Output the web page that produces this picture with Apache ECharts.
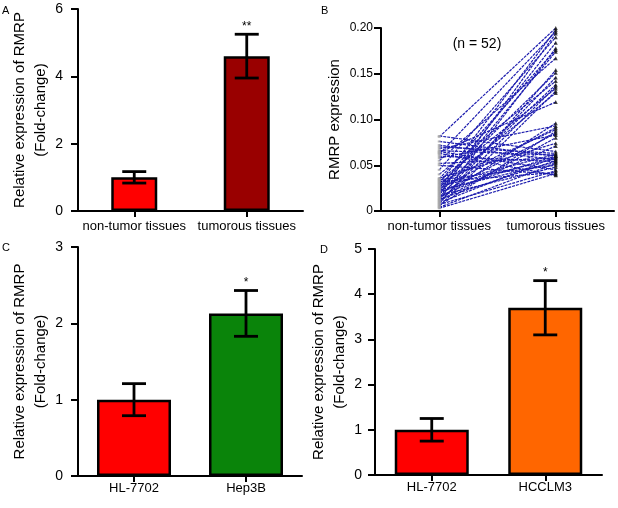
<!DOCTYPE html>
<html><head><meta charset="utf-8">
<script src="https://cdn.jsdelivr.net/npm/echarts@6/dist/echarts.min.js"></script>
<style>html,body{margin:0;padding:0;background:#fff}#c{width:618px;height:508px}</style>
</head><body><div id="c"></div>
<script>
// ---- Panel A ----
const panelA_categories = ['non-tumor tissues', 'tumorous tissues'];
const panelA_means = [1.0, 4.6];
const panelA_errors = [0.17, 0.65];
const panelA_marks = ['', '**'];
const panelA_ticks = [0, 2, 4, 6];
// ---- Panel B (paired samples, n = 52) ----
const panelB_categories = ['non-tumor tissues', 'tumorous tissues'];
const panelB_nonTumor = [0.081,0.030,0.062,0.018,0.045,0.025,0.012,0.035,0.022,0.055,
  0.008,0.028,0.015,0.040,0.020,0.010,0.033,0.005,0.026,0.064,
  0.014,0.068,0.024,0.031,0.006,0.019,0.058,0.011,0.036,0.016,
  0.082,0.070,0.029,0.066,0.021,0.076,0.009,0.052,0.027,0.072,
  0.013,0.060,0.023,0.004,0.034,0.017,0.065,0.007,0.032,0.003,0.050,0.063];
const panelB_tumorous = [0.200,0.198,0.196,0.194,0.190,0.184,0.178,0.176,0.174,0.167,
  0.154,0.151,0.146,0.142,0.138,0.136,0.134,0.131,0.129,0.119,
  0.096,0.093,0.091,0.089,0.087,0.085,0.083,0.080,0.074,0.071,
  0.065,0.063,0.062,0.061,0.060,0.060,0.059,0.058,0.057,0.056,
  0.055,0.054,0.053,0.052,0.050,0.048,0.045,0.044,0.042,0.041,0.040,0.039];
const panelB_ticks = ['0', '0.05', '0.10', '0.15', '0.20'];
const panelB_note = '(n = 52)';
// ---- Panel C ----
const panelC_categories = ['HL-7702', 'Hep3B'];
const panelC_means = [1.0, 2.13];
const panelC_errors = [0.21, 0.30];
const panelC_marks = ['', '*'];
// ---- Panel D ----
const panelD_categories = ['HL-7702', 'HCCLM3'];
const panelD_means = [1.0, 3.7];
const panelD_errors = [0.25, 0.6];
const panelD_marks = ['', '*'];

const FONT = 'Liberation Sans, Arial, Helvetica, sans-serif';
const YNAME = 'Relative expression of RMRP\n(Fold-change)';

const chart = echarts.init(document.getElementById('c'), null, {renderer: 'canvas'});

function xAxisCfg(gi, cats, margin) {
  return {
    type: 'category', gridIndex: gi, data: cats, boundaryGap: true,
    axisLine: {show: true, lineStyle: {color: '#000', width: 2}},
    axisTick: {show: true, alignWithLabel: true, length: 6, lineStyle: {color: '#000', width: 2}},
    axisLabel: {color: '#000', fontSize: 13, fontFamily: FONT, margin: margin, interval: 0},
    splitLine: {show: false}
  };
}
function yAxisCfg(gi, max, interval, name, gap, margin, fontSize, fmt) {
  return {
    type: 'value', gridIndex: gi, min: 0, max: max, interval: interval,
    name: name, nameLocation: 'middle', nameGap: gap,
    nameTextStyle: {color: '#000', fontSize: 15, fontFamily: FONT, lineHeight: 21},
    axisLine: {show: true, lineStyle: {color: '#000', width: 2}},
    axisTick: {show: true, length: 7, lineStyle: {color: '#000', width: 2}},
    axisLabel: {color: '#000', fontSize: fontSize, fontFamily: FONT, margin: margin, formatter: fmt},
    splitLine: {show: false}
  };
}
function barSeries(gi, means, colors, width) {
  return {
    type: 'bar', xAxisIndex: gi, yAxisIndex: gi, barWidth: width,
    data: means.map((v, i) => ({value: v, itemStyle: {color: colors[i]}})),
    itemStyle: {borderColor: '#000', borderWidth: 2.5},
    silent: true, z: 2
  };
}
function errSeries(gi, means, errs, marks) {
  return {
    type: 'custom', xAxisIndex: gi, yAxisIndex: gi, z: 5, silent: true,
    data: means.map((m, i) => [i, m - errs[i], m + errs[i]]),
    renderItem: function (params, api) {
      const i = api.value(0);
      const top = api.coord([i, api.value(2)]);
      const bot = api.coord([i, api.value(1)]);
      const cap = 12;
      const st = {stroke: '#000', lineWidth: 2.8};
      return {type: 'group', children: [
        {type: 'line', shape: {x1: top[0], y1: top[1], x2: bot[0], y2: bot[1]}, style: st},
        {type: 'line', shape: {x1: top[0] - cap, y1: top[1], x2: top[0] + cap, y2: top[1]}, style: st},
        {type: 'line', shape: {x1: bot[0] - cap, y1: bot[1], x2: bot[0] + cap, y2: bot[1]}, style: st},
        {type: 'text', x: top[0], y: top[1] - 2, style: {text: marks[i], fill: '#000', font: '12px ' + FONT, align: 'center', verticalAlign: 'bottom'}}
      ]};
    }
  };
}

const series = [
  barSeries(0, panelA_means, ['#ff0000', '#990000'], 46),
  errSeries(0, panelA_means, panelA_errors, panelA_marks),
  barSeries(2, panelC_means, ['#ff0000', '#0a840a'], 74),
  errSeries(2, panelC_means, panelC_errors, panelC_marks),
  barSeries(3, panelD_means, ['#ff0000', '#ff6600'], 74),
  errSeries(3, panelD_means, panelD_errors, panelD_marks)
];
panelB_nonTumor.forEach((v, i) => {
  series.push({
    type: 'line', xAxisIndex: 1, yAxisIndex: 1, silent: true, symbol: 'none', z: 3,
    data: [v, panelB_tumorous[i]],
    lineStyle: {color: '#1c1cae', width: 1.2, type: [3, 1]}
  });
});
series.push({
  type: 'scatter', xAxisIndex: 1, yAxisIndex: 1, silent: true, z: 6,
  symbol: 'rect', symbolSize: [3, 2],
  data: panelB_nonTumor.map(v => [0, v]),
  itemStyle: {color: '#a8a8a8'}
});
series.push({
  type: 'scatter', xAxisIndex: 1, yAxisIndex: 1, silent: true, z: 6,
  symbol: 'triangle', symbolSize: [4, 4],
  data: panelB_tumorous.map(v => [1, v]),
  itemStyle: {color: '#111'}
});

const letterStyle = {fontSize: 11, fontFamily: FONT, color: '#000', fontWeight: 'normal'};

chart.setOption({
  animation: false,
  backgroundColor: '#fff',
  title: [
    {text: 'A', left: 0, top: 3, textStyle: letterStyle, padding: 2},
    {text: 'B', left: 319, top: 3, textStyle: letterStyle, padding: 2},
    {text: 'C', left: 0, top: 240, textStyle: letterStyle, padding: 2},
    {text: 'D', left: 318, top: 242, textStyle: letterStyle, padding: 2},
    {text: panelB_note, left: 477, top: 37, textAlign: 'center', padding: 0,
     textStyle: {fontSize: 14, fontFamily: FONT, color: '#000', fontWeight: 'normal'}}
  ],
  grid: [
    {left: 78, top: 9, width: 225, height: 202},
    {left: 381, top: 28, width: 233, height: 183},
    {left: 78, top: 247, width: 224, height: 229},
    {left: 375, top: 249, width: 227, height: 226}
  ],
  xAxis: [
    xAxisCfg(0, panelA_categories, 9),
    xAxisCfg(1, panelB_categories, 9),
    xAxisCfg(2, panelC_categories, 6),
    xAxisCfg(3, panelD_categories, 6)
  ],
  yAxis: [
    yAxisCfg(0, panelA_ticks[panelA_ticks.length - 1], 2, YNAME, 27, 15, 14),
    yAxisCfg(1, 0.2, 0.05, 'RMRP expression', 33, 8, 12, function (v) { return panelB_ticks[Math.round(v / 0.05)]; }),
    yAxisCfg(2, 3, 1, YNAME, 25, 15, 14),
    yAxisCfg(3, 5, 1, YNAME, 19, 13, 14)
  ],
  series: series
});
</script></body></html>
